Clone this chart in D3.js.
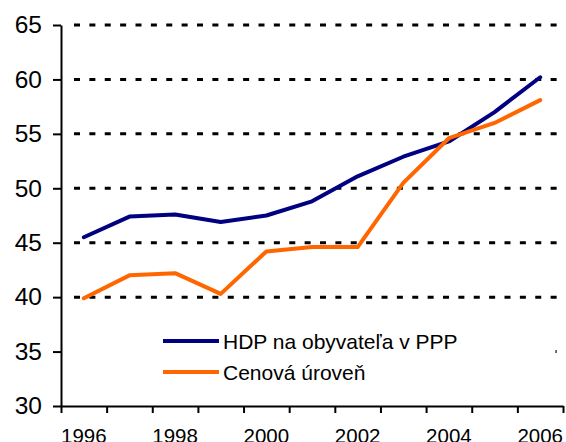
<!DOCTYPE html>
<html>
<head>
<meta charset="utf-8">
<script src="https://cdn.jsdelivr.net/npm/d3@7"></script>
<style>
  html, body { margin: 0; padding: 0; background: #fff; }
  svg { display: block; font-family: Arial, "Liberation Sans", sans-serif; }
</style>
</head>
<body>
<svg id="chart" width="566" height="442"></svg>
<script>
// data
const years = [1996, 1997, 1998, 1999, 2000, 2001, 2002, 2003, 2004, 2005, 2006];
const hdp = [45.5, 47.4, 47.6, 46.9, 47.5, 48.8, 51.1, 52.9, 54.3, 57.0, 60.2];
const cenova = [39.9, 42.0, 42.2, 40.3, 44.2, 44.6, 44.6, 50.5, 54.6, 56.0, 58.1];
const yTicks = [30, 35, 40, 45, 50, 55, 60, 65];
const gridTicks = [35, 40, 45, 50, 55, 60, 65];
const xLabels = [1996, 1998, 2000, 2002, 2004, 2006];
const seriesNames = ["HDP na obyvateľa v PPP", "Cenová úroveň"];
const seriesColors = ["#000080", "#ff6600"];

const svg = d3.select("#chart");

const xBand = d3.scaleBand().domain(years).range([61, 563]).padding(0);
const xEdge = d3.scaleLinear().domain([0, years.length]).range([61, 563]);
const y = d3.scaleLinear().domain([30, 65]).range([406, 25]);

// dotted gridlines
svg.append("g").attr("class", "grid")
  .selectAll("line")
  .data(gridTicks)
  .enter()
  .append("line")
  .attr("x1", 74)
  .attr("x2", 557)
  .attr("y1", d => y(d))
  .attr("y2", d => y(d))
  .style("stroke", "#000")
  .style("stroke-width", 3)
  .style("stroke-dasharray", "6,9.375");

// legend background hides part of the grid
svg.append("rect")
  .attr("x", 65)
  .attr("y", 314)
  .attr("width", 490.5)
  .attr("height", 78)
  .style("fill", "#fff");

// y axis
const yAxis = svg.append("g")
  .attr("transform", "translate(61,0)")
  .call(d3.axisLeft(y).tickValues(yTicks).tickSize(8).tickSizeOuter(0).tickPadding(11));
yAxis.select(".domain").style("stroke", "#000").style("stroke-width", 2);
yAxis.selectAll(".tick line").style("stroke", "#000").style("stroke-width", 2);
yAxis.selectAll(".tick text")
  .style("font-size", "24.5px")
  .style("font-family", "Arial, 'Liberation Sans', sans-serif")
  .style("fill", "#000");

// x axis: tick marks on category edges
const xAxis = svg.append("g")
  .attr("transform", "translate(0,406)")
  .call(d3.axisBottom(xEdge).tickValues(d3.range(years.length + 1)).tickSize(7).tickSizeOuter(0).tickFormat(""));
xAxis.select(".domain").style("stroke", "#000").style("stroke-width", 2);
xAxis.selectAll(".tick line").style("stroke", "#000").style("stroke-width", 2);

// x labels centred under the categories
svg.append("g").attr("class", "xlabels")
  .selectAll("text")
  .data(xLabels)
  .enter()
  .append("text")
  .attr("x", d => xBand(d) + xBand.bandwidth() / 2)
  .attr("y", 443)
  .attr("text-anchor", "middle")
  .style("font-size", "20.5px")
  .style("fill", "#000")
  .text(d => d);

// series lines
const line = d3.line()
  .x((d, i) => xBand(years[i]) + xBand.bandwidth() / 2)
  .y(d => y(d));

[hdp, cenova].forEach((s, i) => {
  svg.append("path")
    .datum(s)
    .attr("d", line)
    .style("fill", "none")
    .style("stroke", seriesColors[i])
    .style("stroke-width", 4)
    .style("stroke-linejoin", "round")
    .style("stroke-linecap", "round");
});

// legend
const legend = svg.append("g").attr("class", "legend")
  .selectAll("g")
  .data(seriesNames)
  .enter()
  .append("g")
  .attr("transform", (d, i) => "translate(163," + (341 + i * 31) + ")");

legend.append("line")
  .attr("x1", 0)
  .attr("x2", 56)
  .style("stroke", (d, i) => seriesColors[i])
  .style("stroke-width", 4);

legend.append("text")
  .attr("x", 60)
  .attr("y", 7.5)
  .style("font-size", "21px")
  .style("fill", "#000")
  .text(d => d);
</script>
</body>
</html>
